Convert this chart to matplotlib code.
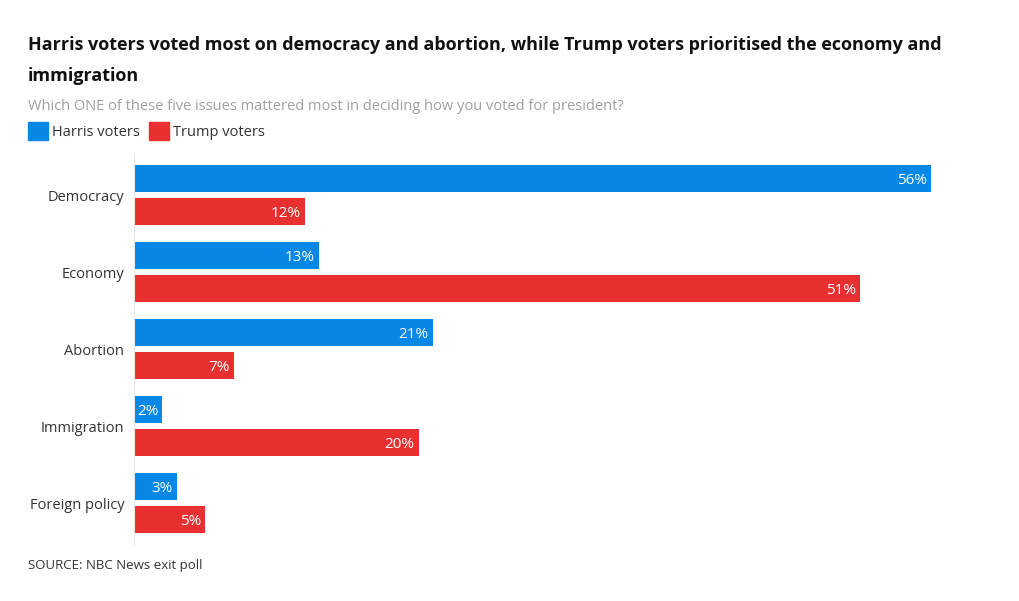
import matplotlib
matplotlib.use("Agg")
import matplotlib.pyplot as plt
from matplotlib.patches import Rectangle
import numpy as np

# 데이터
issues = ["Democracy", "Economy", "Abortion", "Immigration", "Foreign policy"]
harris = [56, 13, 21, 2, 3]
trump = [12, 51, 7, 20, 5]

BLUE = "#0787e6"
RED = "#e83030"
W, H = 1020, 601

plt.rcParams["font.family"] = ["Open Sans", "DejaVu Sans"]

fig = plt.figure(figsize=(W / 100, H / 100), dpi=100)
fig.patch.set_facecolor("white")

ax = fig.add_axes([134 / W, 1 - 545 / H, (990 - 134) / W, (545 - 155) / H])

y = np.arange(len(issues))
bar_h = 0.35
off = 0.214
bars_h = ax.barh(y - off, harris, height=bar_h, color=BLUE)
bars_t = ax.barh(y + off, trump, height=bar_h, color=RED)

for bars, vals in ((bars_h, harris), (bars_t, trump)):
    for b, v in zip(bars, vals):
        ax.annotate(f"{v}%", (b.get_width(), b.get_y() + b.get_height() / 2),
                    xytext=(-3, -1.5), textcoords="offset points",
                    ha="right", va="center", color="white", fontsize=11)

ax.set_xlim(0, (990 - 134) / ((931 - 134) / 56))
ax.set_ylim(4.545, -0.52)
ax.set_yticks(y)
ax.set_yticklabels(issues, fontsize=10.5, color="#333333")
ax.tick_params(axis="y", length=0, pad=7)
ax.set_xticks([])
for s in ("top", "right", "bottom"):
    ax.spines[s].set_visible(False)
ax.spines["left"].set_color("#e6e6e6")
ax.spines["left"].set_linewidth(0.8)

# 제목
fig.text(28 / W, 1 - 45 / H, "Harris voters voted most on democracy and abortion, while Trump voters prioritised the economy and",
         fontsize=13, fontweight="bold", color="#111111", va="center")
fig.text(28 / W, 1 - 76 / H, "immigration", fontsize=13, fontweight="bold", color="#111111", va="center")
fig.text(28 / W, 1 - 106 / H, "Which ONE of these five issues mattered most in deciding how you voted for president?",
         fontsize=10.5, color="#a0a0a0", va="center")

# 범례
for x0, color, label in ((28, BLUE, "Harris voters"), (149, RED, "Trump voters")):
    fig.patches.append(Rectangle((x0 / W, 1 - 140 / H), 20 / W, 18 / H,
                                 transform=fig.transFigure, color=color))
    fig.text((x0 + 24) / W, 1 - 132 / H, label, fontsize=10.5, color="#333333", va="center")

fig.text(28 / W, 1 - 566 / H, "SOURCE: NBC News exit poll", fontsize=9.5, color="#333333", va="center")

fig.savefig("out.png", dpi=100, facecolor="white")
